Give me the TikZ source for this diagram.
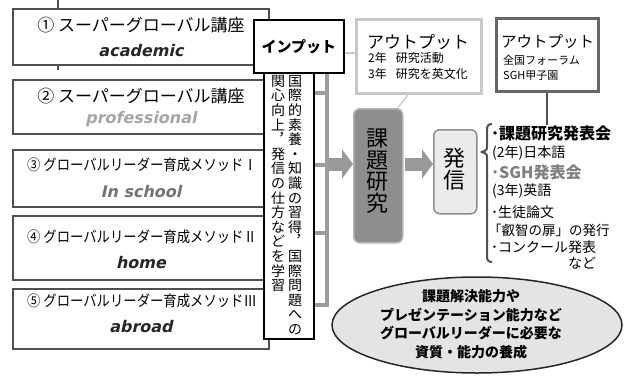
\documentclass[tikz,border=0pt]{standalone}
\usepackage{fontspec}
\usepackage{graphicx}
\setmainfont{Noto Sans CJK JP}
\newfontfamily\latbi{DejaVu Sans Bold}[FakeSlant=0.22]
\usetikzlibrary{arrows.meta,shapes.geometric}
\setlength{\lineskiplimit}{-100pt}
\definecolor{bord}{HTML}{505050}
\definecolor{bargray}{HTML}{9C9C9C}
\definecolor{arrgray}{HTML}{999999}
\definecolor{kadaifill}{HTML}{8E8E8E}
\definecolor{kadaibord}{HTML}{B5B5B5}
\definecolor{hassfill}{HTML}{EBEBEB}
\definecolor{lightbord}{HTML}{C8C8C8}
\definecolor{ellfill}{HTML}{E4E4E4}
\begin{document}
\begin{tikzpicture}[x=1pt,y=-1pt,
  lbox/.style={draw=bord, line width=1.8pt, fill=white, anchor=north west, inner sep=0, minimum width=256pt},
  jl/.style={inner sep=0, font=\fontsize{17}{20}\selectfont},
  jm/.style={inner sep=0, font=\fontsize{15}{18}\selectfont},
  en/.style={inner sep=0, font=\latbi\fontsize{16}{18}\selectfont},
  vt/.style={inner sep=0, align=center, anchor=north, font=\fontsize{14}{14.6}\selectfont},
  lst/.style={inner sep=0, anchor=west, font=\fontsize{14}{16}\selectfont},
  bigarrow/.style={draw=arrgray, line width=13pt, -{Triangle[width=29pt,length=11pt]}},
  thinline/.style={draw=lightbord, line width=1.2pt},
  darkline/.style={draw=bord, line width=2pt}]
\useasboundingbox (0,0) rectangle (625,376);

% top line behind box 1
\coordinate (topc) at (58,0);
\coordinate (topd) at (58,70);
\draw[bord, line width=1.5pt] (topc) -- (topd);

% left boxes
\node[lbox, minimum height=56pt] (b1) at (12,8) {};
\node[lbox, minimum height=54pt] (b2) at (12,79) {};
\node[lbox, minimum height=57pt] (b3) at (12,149) {};
\node[lbox, minimum height=64pt] (b4) at (12,215) {};
\node[lbox, minimum height=60pt] (b5) at (12,288) {};

\node[jl] (t1a) at (141,25) {① スーパーグローバル講座};
\node[en, text=black!85] (t1b) at (141,51) {academic};
\node[jl] (t2a) at (141,96) {② スーパーグローバル講座};
\node[en, text=black!35] (t2b) at (141,119) {professional};
\node[jm] (t3a) at (142,165) {\scalebox{0.89}[1]{③ グローバルリーダー育成メソッドⅠ}};
\node[en, text=black!55] (t3b) at (141,192) {In school};
\node[jm] (t4a) at (142,237) {\scalebox{0.89}[1]{④ グローバルリーダー育成メソッドⅡ}};
\node[en, text=black!85] (t4b) at (141,263) {home};
\node[jm] (t5a) at (142,301) {\scalebox{0.89}[1]{⑤ グローバルリーダー育成メソッドⅢ}};
\node[en, text=black!85] (t5b) at (141,327) {abroad};

% gray bar and branches
\coordinate (bt) at (327,72);
\coordinate (bb) at (327,305);
\draw[bargray, line width=4.5pt] (bt) -- (bb);
\foreach \yy in {93,165,233,305} {
  \draw[bargray, line width=4.5pt] (312,\yy) -- (329.2,\yy);
}

% vertical text box
\node[draw=black, line width=1.8pt, fill=white, anchor=north west, inner sep=0, minimum width=50pt, minimum height=266pt] (vbox) at (263,72) {};
\node[vt] (vr) at (295,75) {国\\際\\的\\素\\養\\・\\知\\識\\の\\習\\得\\︐\\国\\際\\問\\題\\へ\\の};
\node[vt] (vl) at (278,75) {関\\心\\向\\上\\︐\\発\\信\\の\\仕\\方\\な\\ど\\を\\学\\習};

% input box
\node[draw=black, line width=1.8pt, fill=white, anchor=north west, inner sep=0, minimum width=90pt, minimum height=53pt, font=\bfseries\fontsize{15}{18}\selectfont] (inp) at (253,19) {インプット};

% output boxes
\node[draw=lightbord, line width=2.5pt, fill=white, anchor=north west, inner sep=0, minimum width=125pt, minimum height=74pt] (out1) at (355,18) {};
\node[inner sep=0, font=\fontsize{17}{20}\selectfont] (o1a) at (418,42) {アウトプット};
\node[inner sep=0, anchor=west, font=\fontsize{12}{14}\selectfont] (o1b) at (368,58) {2年\hspace{9pt}研究活動};
\node[inner sep=0, anchor=west, font=\fontsize{12}{14}\selectfont] (o1c) at (368,74) {3年\hspace{9pt}研究を英文化};

\node[draw=black!60, line width=2.5pt, fill=white, anchor=north west, inner sep=0, minimum width=102pt, minimum height=73pt] (out2) at (495,17) {};
\node[inner sep=0, font=\fontsize{15.5}{18}\selectfont] (o2a) at (547.5,42) {アウトプット};
\node[inner sep=0, anchor=west, font=\fontsize{11}{13}\selectfont] (o2b) at (503,60) {全国フォーラム};
\node[inner sep=0, anchor=west, font=\fontsize{11}{13}\selectfont] (o2c) at (503,76) {SGH甲子園};

% kadai kenkyu box
\node[draw=kadaibord, line width=1.5pt, fill=kadaifill, rounded corners=6pt, anchor=north west, inner sep=0, minimum width=49pt, minimum height=134pt] (kadai) at (353,108) {};
\node[inner sep=0, align=center, font=\fontsize{22}{21.7}\selectfont] (kadait) at (377.5,171) {課\\題\\研\\究};

% hasshin box
\node[draw=black!45, line width=1.5pt, fill=hassfill, rounded corners=6pt, anchor=north west, inner sep=0, minimum width=43pt, minimum height=84pt] (hass) at (433,129) {};
\node[inner sep=0, align=center, font=\fontsize{22}{21.5}\selectfont] (hasst) at (454.5,169) {発\\信};

% arrows
\coordinate (a1s) at (329,164);
\draw[bigarrow] (a1s) -- (a1s -| kadai.west);
\draw[bigarrow] ([xshift=1pt]a1s -| kadai.east) -- (a1s -| hass.west);

% thin connectors
\coordinate (y53) at (0,53);
\draw[thinline] (inp.east |- y53) -- (out1.west |- y53);
\draw[thinline] ([xshift=-10.5pt]out1.south) -- ([xshift=19.5pt]kadai.north);

% list
\node[lst, font=\bfseries\fontsize{16}{18}\selectfont] (L1) at (491,133) {･課題研究発表会};
\node[lst] (L2) at (492,153) {(2年)日本語};
\node[lst, text=black!50, font=\bfseries\fontsize{16}{18}\selectfont] (L3) at (491,172) {･SGH発表会};
\node[lst] (L4) at (492,191) {(3年)英語};
\node[lst] (L5) at (491,212) {･生徒論文};
\node[lst, font=\fontsize{13.5}{16}\selectfont] (L6) at (488,230) {「叡智の扉」の発行};
\node[lst] (L7) at (491,247) {･コンクール発表};
\node[inner sep=0, font=\fontsize{14}{16}\selectfont] (L8) at (582,263) {など};

\draw[darkline] (out2.south) -- (out2.south |- L1.north);

% brace
\draw[darkline] (492,124) .. controls (488,124) and (487,126) .. (487,130) -- (487,146)
  .. controls (487,150) .. (482,152) .. controls (487,154) .. (487,158) -- (487,256)
  .. controls (487,260) and (488,262) .. (492,262);

% ellipse
\node[ellipse, draw=black!85, line width=1.5pt, fill=ellfill, minimum width=290pt, minimum height=96pt, inner sep=0] (ell) at (477,325) {};
\node[inner sep=0, align=center, font=\bfseries\fontsize{14}{18.5}\selectfont] (ellt) at (471,324) {課題解決能力や\\プレゼンテーション能力など\\グローバルリーダーに必要な\\資質・能力の養成};
\end{tikzpicture}
\end{document}
